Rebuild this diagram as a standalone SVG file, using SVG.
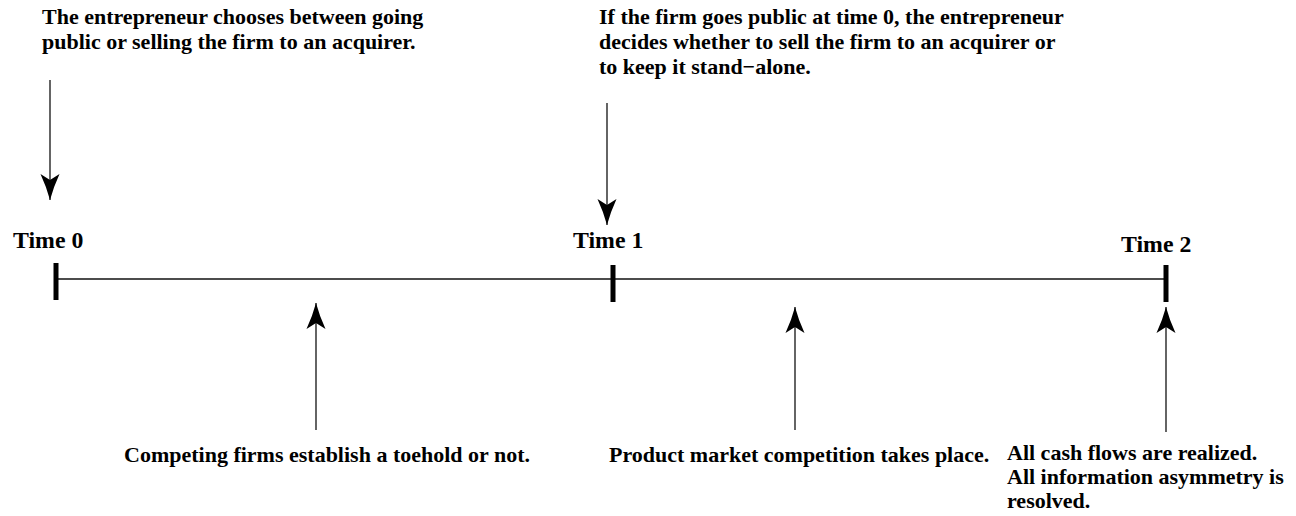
<svg xmlns="http://www.w3.org/2000/svg" width="1296" height="516" viewBox="0 0 1296 516">
<style>
  text { font-family: "Liberation Serif", "Times New Roman", serif; font-weight: bold; font-size: 22px; fill: #000; }
  .tl { font-size: 23.8px; }
  .ln { stroke: #111; stroke-width: 1.3; fill: none; }
  .tick { stroke: #000; stroke-width: 5; }
</style>
<defs>
  <marker id="ah" viewBox="-28 -11 29 22" refX="0" refY="0" markerWidth="29" markerHeight="22" markerUnits="userSpaceOnUse" orient="auto">
    <path d="M0,0 Q-13,-3.5 -26,-9.5 L-20,0 L-26,9.5 Q-13,3.5 0,0 Z" fill="#000"/>
  </marker>
</defs>
<rect width="1296" height="516" fill="#fff"/>
<g id="timeline">
  <line class="ln" x1="56" y1="279" x2="1166" y2="279"/>
  <line class="tick" x1="56" y1="263" x2="56" y2="300"/>
  <line class="tick" x1="613" y1="265" x2="613" y2="302"/>
  <line class="tick" x1="1166" y1="265" x2="1166" y2="302"/>
</g>
<g id="time0"><text class="tl" x="13" y="248">Time 0</text></g>
<g id="time1"><text class="tl" x="573" y="248">Time 1</text></g>
<g id="time2"><text class="tl" x="1121" y="252">Time 2</text></g>
<g id="note-t0">
  <text x="42" y="24">The entrepreneur chooses between going</text>
  <text x="42" y="49">public or selling the firm to an acquirer.</text>
</g>
<g id="note-t1">
  <text x="599" y="24">If the firm goes public at time 0, the entrepreneur</text>
  <text x="599" y="49">decides whether to sell the firm to an acquirer or</text>
  <text x="599" y="74">to keep it stand−alone.</text>
</g>
<g id="note-toehold"><text x="124" y="462">Competing firms establish a toehold or not.</text></g>
<g id="note-competition"><text x="609" y="462">Product market competition takes place.</text></g>
<g id="note-t2">
  <text x="1007" y="460">All cash flows are realized.</text>
  <text x="1007" y="484">All information asymmetry is</text>
  <text x="1007" y="508">resolved.</text>
</g>
<g id="connectors">
  <line class="ln" x1="50" y1="80" x2="50" y2="200" marker-end="url(#ah)"/>
  <line class="ln" x1="607" y1="103" x2="607" y2="225" marker-end="url(#ah)"/>
  <line class="ln" x1="316" y1="430" x2="316" y2="303" marker-end="url(#ah)"/>
  <line class="ln" x1="795" y1="430" x2="795" y2="307" marker-end="url(#ah)"/>
  <line class="ln" x1="1166" y1="432" x2="1166" y2="307" marker-end="url(#ah)"/>
</g>
</svg>
